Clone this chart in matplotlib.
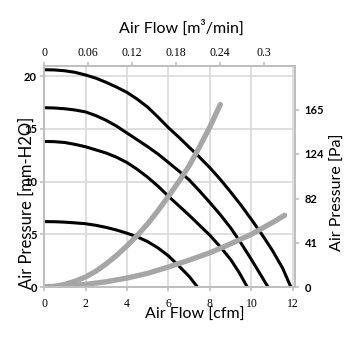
import matplotlib
matplotlib.use("Agg")
import matplotlib.pyplot as plt

# fan curves, air flow [cfm] vs static pressure [mm-H2O]
curve1_cfm = [0, 0.5, 1, 1.5, 2, 2.5, 3, 3.5, 4, 4.5, 5, 5.5, 6, 6.5, 7, 7.5, 8,
              8.5, 9, 9.5, 10, 10.5, 11, 11.5, 11.9]
curve1_mm = [20.6, 20.58, 20.5, 20.35, 20.1, 19.8, 19.4, 18.95, 18.45, 17.8, 17.05,
             16.1, 15.1, 14.2, 13.25, 12.3, 11.3, 10.2, 9.0, 7.75, 6.4, 5.0, 3.5, 1.8, 0]
curve2_cfm = [0, 0.5, 1, 1.5, 2, 2.5, 3, 3.5, 4, 4.5, 5, 5.5, 6, 6.5, 7, 7.5, 8,
              8.5, 9, 9.5, 10, 10.4, 10.8]
curve2_mm = [17.0, 16.97, 16.9, 16.78, 16.6, 16.25, 15.8, 15.25, 14.6, 13.95, 13.3,
             12.6, 11.8, 11.0, 10.15, 9.1, 8.0, 6.85, 5.6, 4.15, 2.6, 1.3, 0]
curve3_cfm = [0, 0.5, 1, 1.5, 2, 2.5, 3, 3.5, 4, 4.5, 5, 5.5, 6, 6.5, 7, 7.5, 8,
              8.5, 9, 9.4, 9.8]
curve3_mm = [13.8, 13.78, 13.7, 13.52, 13.3, 13.0, 12.7, 12.3, 11.8, 11.15, 10.4,
             9.55, 8.6, 7.7, 6.8, 5.85, 4.9, 3.8, 2.6, 1.4, 0]
curve4_cfm = [0, 0.5, 1, 1.5, 2, 2.5, 3, 3.5, 4, 4.5, 5, 5.5, 6, 6.5, 7, 7.4]
curve4_mm = [6.2, 6.19, 6.15, 6.08, 6.0, 5.85, 5.65, 5.4, 5.1, 4.75, 4.3, 3.7,
             2.95, 2.0, 1.0, 0]

# system impedance curves
steep_cfm = [0, 0.5, 1, 1.5, 2, 2.5, 3, 3.5, 4, 4.5, 5, 5.5, 6, 6.5, 7, 7.5, 8, 8.5]
steep_mm = [0, 0.06, 0.25, 0.55, 0.95, 1.5, 2.2, 3.0, 3.9, 4.9, 6.0, 7.25, 8.6,
            10.0, 11.5, 13.3, 15.2, 17.3]
shallow_cfm = [0, 1, 2, 3, 4, 5, 6, 7, 8, 9, 10, 11, 11.6]
shallow_mm = [0, 0.1, 0.25, 0.5, 0.85, 1.3, 1.9, 2.55, 3.25, 4.1, 5.0, 6.1, 6.8]

cfm_ticks = [0, 2, 4, 6, 8, 10, 12]
mm_ticks = [0, 5, 10, 15, 20]
m3_ticks = [0, 0.06, 0.12, 0.18, 0.24, 0.3]
m3_labels = ["0", "0.06", "0.12", "0.18", "0.24", "0.3"]
pa_ticks = [0, 41, 82, 124, 165]

CFM_TO_M3MIN = 0.0283168
MM_TO_PA = 9.80665
XMAX = 12.1
YMAX = 20.95

fig = plt.figure(figsize=(3.55, 3.55), dpi=100)
ax = fig.add_axes([0.124, 0.1915, 0.707, 0.6225])

ax.set_xlim(0, XMAX)
ax.set_ylim(0, YMAX)
ax.set_xticks(cfm_ticks)
ax.set_yticks(mm_ticks)
ax.grid(True, color="#d9d9d9", linewidth=1.2)
ax.set_axisbelow(True)

for xs, ys in [(curve1_cfm, curve1_mm), (curve2_cfm, curve2_mm),
               (curve3_cfm, curve3_mm), (curve4_cfm, curve4_mm)]:
    ax.plot(xs, ys, color="black", linewidth=2.2, solid_capstyle="butt",
            solid_joinstyle="round", zorder=3)

for xs, ys in [(steep_cfm, steep_mm), (shallow_cfm, shallow_mm)]:
    ax.plot(xs, ys, color="#a6a6a6", linewidth=3.8, solid_capstyle="round",
            solid_joinstyle="round", zorder=4)

serif = dict(family="Liberation Serif", fontsize=8.5)
ax.set_xticklabels([str(t) for t in cfm_ticks], **serif)
ax.set_yticklabels([str(t) for t in mm_ticks], family="Lato", fontsize=8, fontweight="bold")

for s in ax.spines.values():
    s.set_color("#bfbfbf")
    s.set_linewidth(1.2)
ax.tick_params(color="#bfbfbf", length=3, width=1.2, pad=2)
ax.tick_params(axis="x", pad=5)

# right axis in Pa
axr = ax.twinx()
axr.set_ylim(0, YMAX * MM_TO_PA)
axr.set_yticks(pa_ticks)
axr.set_yticklabels([str(t) for t in pa_ticks], family="Lato", fontsize=8, fontweight="bold")
axr.tick_params(color="#bfbfbf", length=3, width=1.2, pad=4)

# top axis in m3/min
axt = ax.twiny()
axt.set_xlim(0, XMAX * CFM_TO_M3MIN)
axt.set_xticks(m3_ticks)
axt.set_xticklabels(m3_labels, **serif)
axt.tick_params(color="#bfbfbf", length=3, width=1.2, pad=2)
for a in (axr, axt):
    for s in a.spines.values():
        s.set_color("#bfbfbf")
        s.set_linewidth(1.2)

fig.text(181 / 355, 1 - 28 / 355, "Air Flow [m\u00b3/min]", ha="center", va="center",
         family="Lato", fontsize=11.5)
fig.text(195 / 355, 1 - 315 / 355, "Air Flow [cfm]", ha="center", va="center",
         family="Lato", fontsize=11.5)
fig.text(27 / 355, 1 - 203 / 355, "Air Pressure [mm-H2O]", ha="center", va="center",
         rotation=90, family="Lato", fontsize=12)
fig.text(338 / 355, 1 - 192 / 355, "Air Pressure [Pa]", ha="center", va="center",
         rotation=90, family="Lato", fontsize=11.5)

fig.savefig("out.png", dpi=100)
